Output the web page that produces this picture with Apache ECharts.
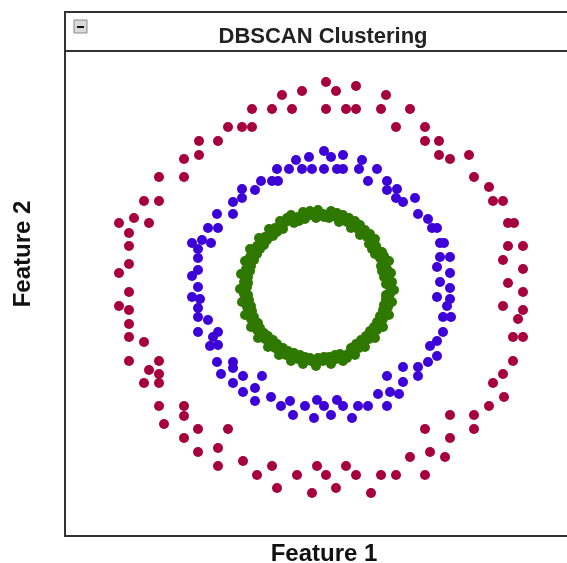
<!DOCTYPE html>
<html>
<head>
<meta charset="utf-8">
<script src="https://cdn.jsdelivr.net/npm/echarts@6/dist/echarts.min.js"></script>
<style>
html,body{margin:0;padding:0;background:#fff;}
#chart{width:567px;height:563px;}
</style>
</head>
<body>
<div id="chart"></div>
<script>
// Cluster 0 (outer ring, red)
const outerRing = [
[9,206],[-15,197],[-35,193],[-65,179],[-45,179],[-25,179],[9,179],[-89,161],[-75,161],[-65,161],
[-118,147],[-99,147],[-133,129],[-118,133],[-158,111],[-133,111],[-173,87],[-158,87],[-183,70],[-198,65],
[-168,65],[19,197],[39,202],[69,193],[29,179],[39,179],[64,179],[93,179],[79,161],[108,161],
[108,147],[122,147],[122,133],[133,129],[152,133],[157,111],[172,101],[176,87],[186,87],[191,65],
[197,65],[191,42],[206,42],[186,28],[206,19],[191,5],[206,-4],[186,-18],[206,-22],[201,-31],
[196,-49],[206,-49],[196,-73],[186,-86],[-188,55],[-188,42],[-188,24],[-198,15],[-188,-4],[-198,-18],
[-188,-22],[-188,-36],[-188,-49],[-173,-54],[-188,-73],[-158,-73],[-168,-82],[-158,-86],[-173,-95],[-158,-95],
[-158,-118],[-133,-118],[-133,-128],[-153,-136],[-119,-141],[-89,-141],[-133,-150],[-99,-160],[-119,-164],[-99,-178],
[-74,-173],[-45,-178],[-60,-187],[-20,-187],[-40,-200],[-5,-205],[0,-178],[176,-95],[187,-109],[172,-118],
[133,-127],[157,-127],[108,-141],[157,-141],[133,-150],[113,-164],[128,-169],[93,-169],[29,-178],[9,-187],
[39,-187],[64,-187],[79,-187],[108,-187],[19,-200],[54,-205]
];
// Cluster 1 (middle ring, blue)
const middleRing = [
[7,137],[-21,128],[-8,131],[-40,119],[-28,119],[-15,119],[-5,119],[7,119],[-56,107],[-45,107],
[-39,107],[-75,99],[-62,98],[-84,86],[-75,90],[-100,74],[-84,74],[14,131],[26,133],[20,119],
[26,119],[42,119],[45,128],[60,119],[51,107],[70,107],[70,98],[80,99],[79,90],[86,86],
[98,90],[101,74],[111,69],[-109,60],[-99,60],[-125,45],[-115,48],[-106,45],[-119,39],[-119,30],
[-119,18],[-125,12],[-119,1],[-125,-9],[-117,-11],[-119,-20],[-119,-29],[-109,-32],[-119,-44],[-104,-49],
[-99,-44],[-107,-58],[-99,-57],[-100,-74],[-84,-74],[-84,-80],[-96,-86],[115,60],[120,60],[123,45],
[127,45],[123,31],[133,31],[120,21],[133,15],[123,6],[133,0],[120,-9],[133,-11],[130,-18],
[126,-29],[134,-29],[126,-44],[120,-53],[113,-58],[120,-68],[111,-74],[101,-79],[86,-79],[101,-88],
[86,-94],[-74,-88],[-55,-88],[-84,-95],[-74,-104],[-62,-100],[-62,-113],[-46,-109],[-36,-118],[-27,-113],
[-24,-127],[-12,-118],[-3,-130],[0,-112],[7,-118],[20,-112],[26,-118],[41,-118],[51,-118],[70,-118],
[14,-127],[35,-130],[70,-88],[73,-104],[82,-106],[61,-106]
];
// Cluster 2 (inner ring, green)
const innerRing = [
[73,1],[69,4],[77,-2],[72,8],[75,6],[71,13],[67,11],[74,15],[70,19],[65,17],
[68,25],[72,27],[64,22],[63,30],[67,32],[62,37],[65,36],[58,34],[59,42],[55,39],
[55,47],[58,49],[52,44],[50,51],[53,54],[46,55],[48,58],[43,53],[41,59],[43,63],
[36,63],[38,67],[34,60],[30,66],[32,70],[25,69],[26,73],[22,66],[19,71],[20,75],
[13,73],[12,70],[14,77],[6,74],[7,71],[0,74],[1,78],[-1,70],
[-6,73],[-7,77],[-13,73],[-12,69],[-14,76],[-19,71],[-18,67],[-25,70],[-23,65],[-26,73],
[-31,66],[-30,70],[-36,63],[-37,67],[-34,59],[-42,60],[-40,56],[-47,56],[-44,52],[-48,59],
[-52,51],[-50,48],[-56,47],[-53,43],[-58,50],[-60,42],[-57,39],[-63,37],[-60,34],[-67,39],
[-67,31],[-63,28],[-69,25],[-66,22],[-72,27],[-71,19],[-67,17],[-72,13],[-69,11],[-76,14],
[-73,6],[-69,5],[-74,0],[-70,1],[-77,-1],
[-73,-6],[-69,-7],[-72,-13],[-68,-12],[-75,-14],[-70,-19],[-66,-18],[-69,-25],[-65,-23],[-72,-27],
[-66,-31],[-63,-29],[-63,-37],[-59,-35],[-66,-39],[-60,-42],[-57,-40],[-56,-47],[-53,-45],[-59,-50],
[-52,-51],[-49,-48],[-47,-56],[-44,-52],[-49,-59],[-42,-60],[-40,-56],[-37,-64],[-34,-60],[-38,-67],
[-31,-67],[-29,-63],[-25,-69],[-23,-65],[-26,-73],[-19,-71],[-17,-67],[-13,-73],[-12,-69],[-14,-76],
[-6,-73],[-7,-70],[0,-74],[1,-70],[-1,-78],
[6,-73],[7,-69],[13,-73],[12,-69],[14,-76],[19,-71],[18,-67],[25,-70],[23,-66],[26,-73],
[31,-66],[30,-70],[37,-63],[34,-60],[38,-67],[42,-60],[39,-56],[47,-56],[44,-52],[48,-59],
[52,-51],[49,-48],[56,-47],[53,-43],[58,-50],[60,-42],[57,-39],[63,-37],[60,-34],[66,-39],
[66,-31],[63,-28],[69,-25],[66,-22],[72,-27],[71,-19],[67,-17],[72,-13],[69,-11],[75,-14],
[73,-6],[69,-7]
];
const titleText = 'DBSCAN Clustering';
const xName = 'Feature 1';
const yName = 'Feature 2';
const clusterColors = ['#a6003d', '#3d00d9', '#2f7800'];

const chart = echarts.init(document.getElementById('chart'), null, {renderer: 'canvas'});
const hiddenAxis = {
  axisLine: {show: false}, axisTick: {show: false}, axisLabel: {show: false}, splitLine: {show: false}
};
const labelFont = 'Liberation Sans, Arial, sans-serif';
chart.setOption({
  animation: false,
  backgroundColor: '#ffffff',
  title: {
    text: titleText, left: 318, top: 21, textAlign: 'center',
    textStyle: {fontFamily: labelFont, fontSize: 22, fontWeight: 'bold', color: '#222'}
  },
  grid: {left: 65, top: 52, right: 0, bottom: 27, show: false, outerBoundsMode: 'none', containLabel: false},
  xAxis: Object.assign({
    type: 'value', min: -252, max: 250,
    name: xName, nameLocation: 'middle', nameGap: 6,
    nameTextStyle: {fontFamily: labelFont, fontSize: 24, fontWeight: 'bold', color: '#111', verticalAlign: 'top', padding: [0, 0, 0, 16]}
  }, hiddenAxis),
  yAxis: Object.assign({type: 'value', min: -248, max: 236}, hiddenAxis),
  series: [
    {type: 'scatter', data: outerRing, symbolSize: 10, itemStyle: {color: clusterColors[0], opacity: 1}},
    {type: 'scatter', data: middleRing, symbolSize: 10, itemStyle: {color: clusterColors[1], opacity: 1}},
    {type: 'scatter', data: innerRing, symbolSize: 10, itemStyle: {color: clusterColors[2], opacity: 1}}
  ],
  graphic: [
    {type: 'text', x: 23, y: 254, rotation: Math.PI / 2,
     style: {text: yName, font: 'bold 24px ' + labelFont, fill: '#111', align: 'center', verticalAlign: 'middle'}},
    {type: 'rect', shape: {x: 65, y: 12, width: 520, height: 524}, style: {fill: 'none', stroke: '#333', lineWidth: 2}, z: 10},
    {type: 'line', shape: {x1: 65, y1: 51, x2: 567, y2: 51}, style: {stroke: '#333', lineWidth: 2}, z: 10},
    {type: 'rect', shape: {x: 74, y: 20, width: 13, height: 13}, style: {fill: '#d9d9d9', stroke: '#8a8a8a', lineWidth: 1}, z: 10},
    {type: 'rect', shape: {x: 77, y: 26, width: 7, height: 2}, style: {fill: '#111'}, z: 11}
  ]
});
</script>
</body>
</html>
